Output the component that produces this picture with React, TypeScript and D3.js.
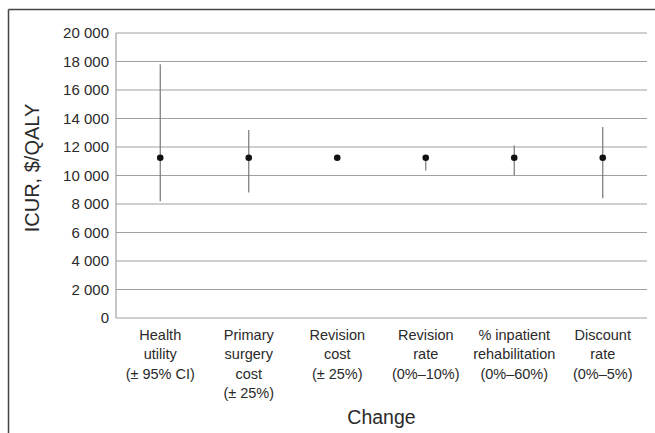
import React from "react";
import * as d3 from "d3";

const categories: string[][] = [
  ["Health", "utility", "(± 95% CI)"],
  ["Primary", "surgery", "cost", "(± 25%)"],
  ["Revision", "cost", "(± 25%)"],
  ["Revision", "rate", "(0%–10%)"],
  ["% inpatient", "rehabilitation", "(0%–60%)"],
  ["Discount", "rate", "(0%–5%)"],
];
const baseValues: number[] = [11250, 11250, 11250, 11250, 11250, 11250];
const lowValues: number[] = [8200, 8800, 11250, 10350, 10000, 8400];
const highValues: number[] = [17800, 13200, 11250, 11250, 12100, 13400];
const yTicks: number[] = [0, 2000, 4000, 6000, 8000, 10000, 12000, 14000, 16000, 18000, 20000];

const W = 655;
const H = 433;
const margin = { left: 116, right: 8, top: 33, bottom: 115 };
const FONT = "'Liberation Sans', Arial, sans-serif";

export default function App() {
  const x = d3
    .scaleBand<number>()
    .domain(categories.map((_, i) => i))
    .range([margin.left, W - margin.right])
    .padding(0);
  const y = d3.scaleLinear().domain([0, 20000]).range([H - margin.bottom, margin.top]);
  const fmt = (v: number) => d3.format(",")(v).replace(/,/g, " ");
  const x0 = margin.left;
  const x1 = W - margin.right;
  const yBottom = y(0);

  return (
    <svg width={W} height={H} style={{ position: "absolute", left: 0, top: 0, background: "#fff" }} fontFamily={FONT}>
      {/* frame */}
      <line x1={8.5} x2={W} y1={9.5} y2={9.5} stroke="#444" strokeWidth={1.5} />
      <line x1={8.5} x2={8.5} y1={9.5} y2={H} stroke="#444" strokeWidth={1.5} />

      {/* gridlines */}
      {yTicks.map((t) => (
        <g key={t}>
          <line x1={x0} x2={x1} y1={y(t)} y2={y(t)} stroke="#a0a0a0" strokeWidth={1.2} />
          <text x={109} y={y(t)} dy="0.36em" textAnchor="end" fontSize={15} fill="#2a2a2a">
            {fmt(t)}
          </text>
        </g>
      ))}
      <line x1={x0} x2={x0} y1={y(20000)} y2={yBottom} stroke="#a0a0a0" strokeWidth={1.2} />

      {/* error bars and points */}
      {categories.map((_, i) => {
        const cx = (x(i) as number) + x.bandwidth() / 2;
        return (
          <g key={i}>
            {highValues[i] !== lowValues[i] && (
              <line x1={cx} x2={cx} y1={y(highValues[i])} y2={y(lowValues[i])} stroke="#777" strokeWidth={1.2} />
            )}
            <circle cx={cx} cy={y(baseValues[i])} r={3.3} fill="#111" />
          </g>
        );
      })}

      {/* category labels */}
      {categories.map((lines, i) => {
        const cx = (x(i) as number) + x.bandwidth() / 2;
        return (
          <text key={i} x={cx} y={340} textAnchor="middle" fontSize={14.5} fill="#2a2a2a">
            {lines.map((l, j) => (
              <tspan key={j} x={cx} dy={j === 0 ? 0 : 19.3}>
                {l}
              </tspan>
            ))}
          </text>
        );
      })}

      {/* axis titles */}
      <text x={(x0 + x1) / 2} y={424} textAnchor="middle" fontSize={19.5} fill="#2a2a2a">
        Change
      </text>
      <text
        transform={`translate(39, 168) rotate(-90)`}
        textAnchor="middle"
        fontSize={20}
        fill="#2a2a2a"
      >
        ICUR, $/QALY
      </text>
    </svg>
  );
}
